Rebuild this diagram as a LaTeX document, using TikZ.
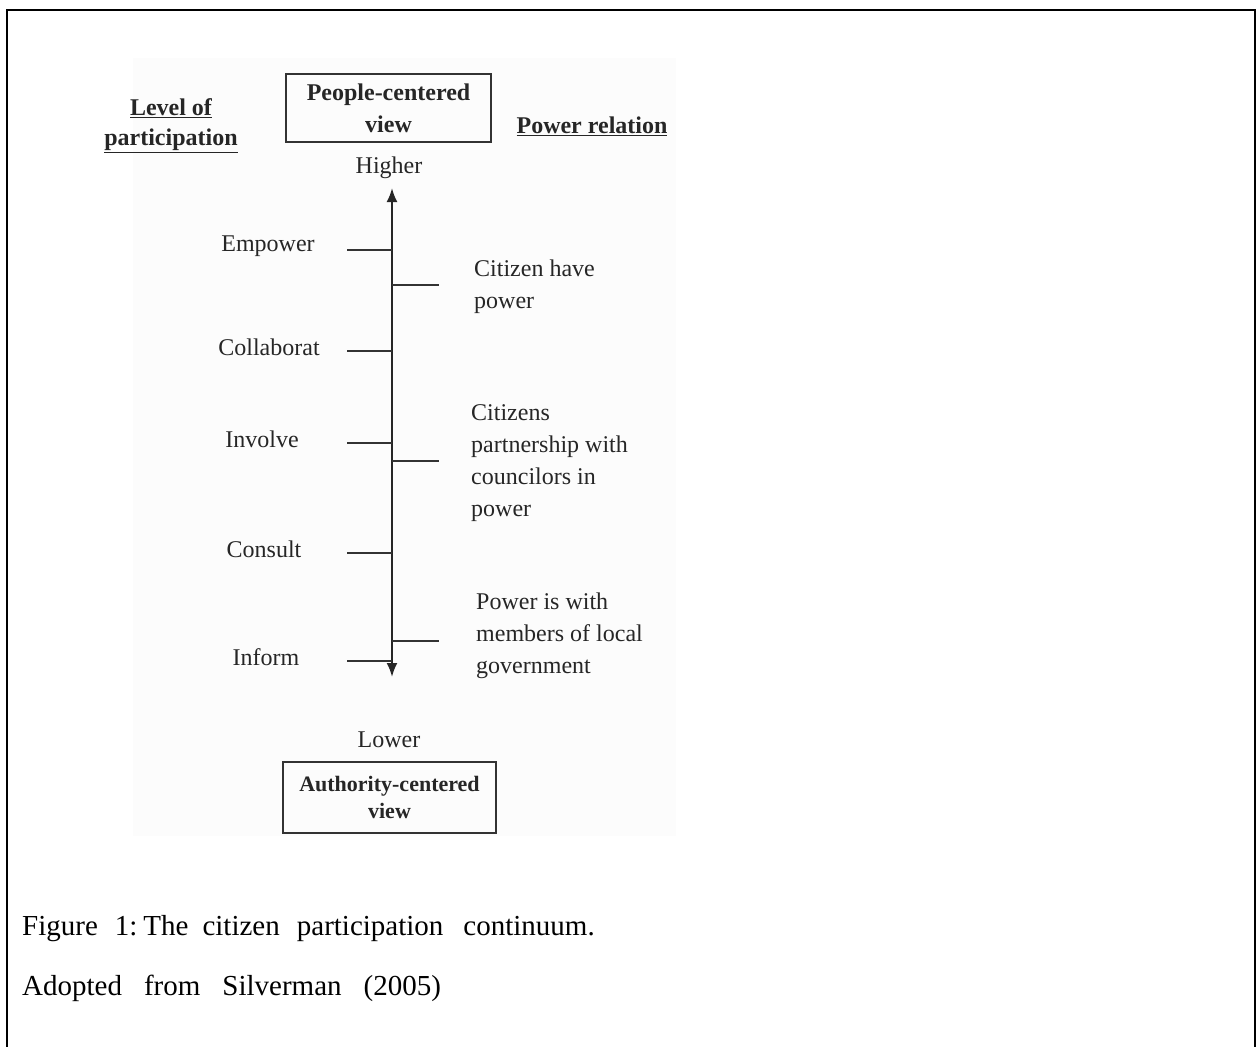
\documentclass[tikz,border=0pt]{standalone}
\usepackage{fontspec}
\setmainfont{Liberation Serif}
\usetikzlibrary{arrows.meta}
\begin{document}
\begin{tikzpicture}[x=1pt,y=-1pt,
  lbl/.style={font=\fontsize{24}{32}\selectfont, inner sep=0pt, text=black!85},
  rtxt/.style={lbl, anchor=west, align=left},
  hdr/.style={font=\bfseries\fontsize{24}{32}\selectfont, inner sep=0pt, text=black!85, align=center},
  viewbox/.style={draw=black!80, line width=2pt, inner sep=0pt, align=center},
  tick/.style={line width=2pt, draw=black!80},
  capt/.style={font=\fontsize{29}{34}\selectfont, inner sep=0pt, anchor=base west}
]
\useasboundingbox (0,0) rectangle (1257,1046);
% outer frame (open at the bottom, continues past the page)
\coordinate (fbl) at (7,1080);
\coordinate (ftl) at (7,10);
\coordinate (ftr) at (1255,10);
\coordinate (fbr) at (1255,1080);
\draw[line width=2.5pt, line join=miter] (fbl) -- (ftl) -- (ftr) -- (fbr);
% faint background of the embedded figure
\fill[black!1] (133,58) rectangle (676,836);

% top box and headers
\node[viewbox, hdr, minimum width=205pt, minimum height=68pt] (top) at (388.5,108) {People-centered\\view};
\node[hdr, font=\bfseries\fontsize{24}{30}\selectfont] (lev) at (171,126) {\underline{Level of}\\\underline{participation}};
\node[hdr] (pow) at (592,126) {\underline{Power relation}};
\node[lbl] (hi) at (389,168) {Higher};

% axis
\coordinate (atop) at (392,188);
\coordinate (abot) at (392,677);
\draw[line width=2.2pt, draw=black!85, {Latex[length=14pt,width=11pt]}-{Latex[length=14pt,width=11pt]}] (abot) -- (atop);

% left ticks and labels
\foreach \n/\y/\t/\cx in {emp/250/Empower/268, col/351/Collaborat/269, inv/443/Involve/262, con/553/Consult/264, inf/661/Inform/266}{
  \coordinate (\n L) at (347,\y);
  \coordinate (\n A) at (392,\y);
  \draw[tick] (\n L) -- (\n A);
  \node[lbl] (\n) at (\cx,\y-4) {\t};
}

% right ticks
\foreach \n/\y in {r1/285, r2/461, r3/641}{
  \coordinate (\n A) at (392,\y);
  \coordinate (\n R) at (439,\y);
  \draw[tick] (\n A) -- (\n R);
}
\node[rtxt] (t1) at (474,287) {Citizen have\\power};
\node[rtxt] (t2) at (471,463) {Citizens\\partnership with\\councilors in\\power};
\node[rtxt] (t3) at (476,636) {Power is with\\members of local\\government};

% bottom
\node[lbl] (lo) at (389,740) {Lower};
\node[viewbox, font=\bfseries\fontsize{22}{27}\selectfont, text=black!85, minimum width=213pt, minimum height=71pt] (bot) at (389.5,797.5) {Authority-centered\\view};

% caption
\node[capt] (cap1) at (22,935) {Figure\hspace{17pt}1:\hspace{6pt}The\hspace{14pt}citizen\hspace{17pt}participation\hspace{20pt}continuum.};
\node[capt] (cap2) at (22,995) {Adopted\hspace{22pt}from\hspace{22pt}Silverman\hspace{22pt}(2005)};
\end{tikzpicture}
\end{document}
